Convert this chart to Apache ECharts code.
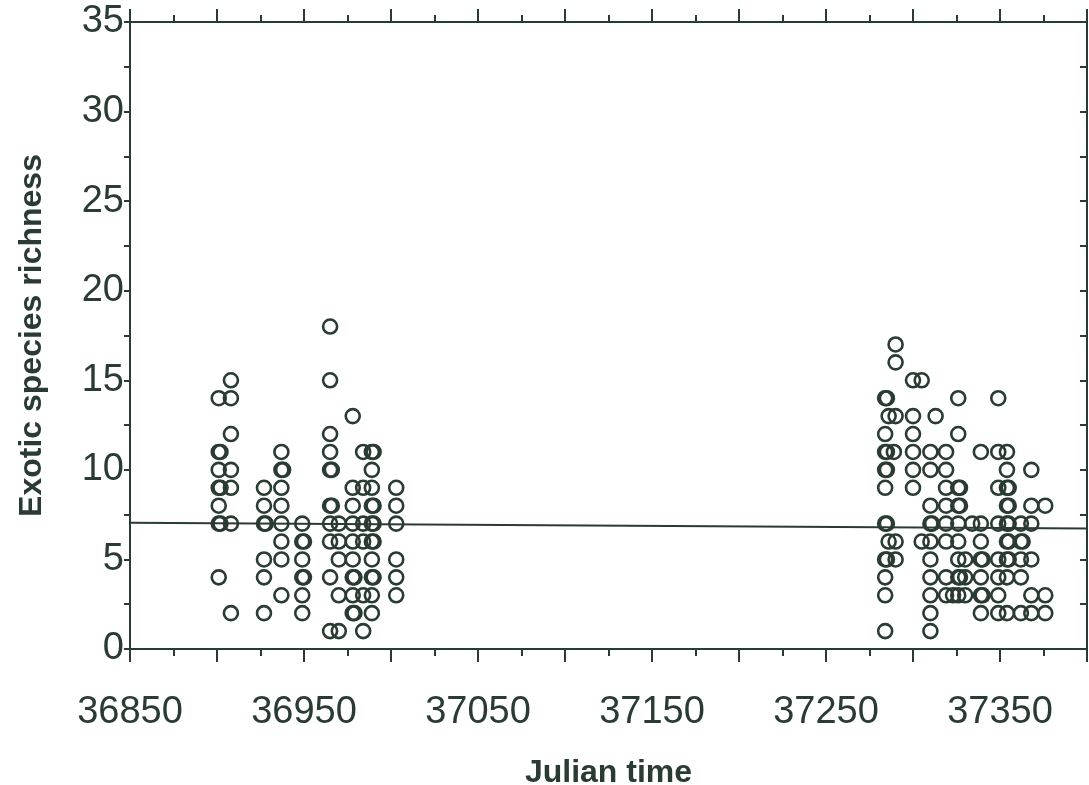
<!DOCTYPE html>
<html>
<head>
    <meta charset="utf-8"/>
    <style>
        html, body {
            height: 100%;
            margin: 0;
            padding: 0;
            background: #ffffff;
        }

        .container {
            width: 1089px;
            height: 785px;
        }
    </style>
</head>
<body>
<div id="main" class="container"></div>

<script src="https://cdn.jsdelivr.net/npm/echarts@6/dist/echarts.min.js"></script>
<script type="text/javascript">
    // sample days (julian) and the richness values recorded on each
    var sampleDays = [
        36901, 36902, 36908, 36927, 36928, 36937, 36938, 36949, 36950,
        36965, 36966, 36970, 36978, 36979, 36984, 36989, 36990, 37003,
        37284, 37285, 37286, 37289, 37290, 37300, 37305, 37310, 37311,
        37313, 37319, 37323, 37326, 37327, 37330, 37334, 37339, 37340,
        37349, 37354, 37355, 37362, 37363, 37368, 37376
    ];
    var richnessByDay = [
        [14, 11, 10, 9, 8, 7, 4],
        [11, 9, 7],
        [15, 14, 12, 10, 9, 7, 2],
        [9, 8, 7, 5, 4, 2],
        [7],
        [11, 10, 9, 8, 7, 6, 5, 3],
        [10],
        [7, 6, 5, 4, 3, 2],
        [6, 4],
        [18, 15, 12, 11, 10, 8, 7, 6, 4, 1],
        [10, 8],
        [7, 6, 5, 3, 1],
        [13, 9, 8, 7, 6, 5, 4, 3, 2],
        [4, 2],
        [11, 9, 7, 6, 3, 1],
        [11, 10, 9, 8, 7, 6, 5, 4, 3, 2],
        [11, 8, 7, 6, 4],
        [9, 8, 7, 5, 4, 3],
        [14, 12, 11, 10, 9, 7, 5, 4, 3, 1],
        [14, 11, 10, 7, 5],
        [13, 6],
        [11],
        [17, 16, 13, 6, 5],
        [15, 13, 12, 11, 10, 9],
        [15, 6],
        [11, 10, 8, 7, 6, 5, 4, 3, 2, 1],
        [7],
        [13],
        [11, 10, 9, 8, 7, 6, 4, 3],
        [3],
        [14, 12, 9, 8, 7, 6, 5, 4, 3],
        [9, 8, 4],
        [5, 4, 3],
        [7],
        [11, 7, 6, 5, 4, 3, 2],
        [5, 3],
        [14, 11, 9, 7, 5, 4, 3, 2],
        [11, 10, 9, 8, 7, 6, 5, 4, 2],
        [9, 8, 7, 6, 5],
        [7, 6, 5, 4, 2],
        [6],
        [10, 8, 7, 5, 3, 2],
        [8, 3, 2]
    ];
    // fitted regression line end points
    var fitDays = [36850, 37400];
    var fitRichness = [7.05, 6.72];

    var xTicks = [36850, 37400, 50];
    var yTicks = [0, 35, 5];

    var ink = '#2a3b33';
    var font = '"Liberation Sans", Arial, sans-serif';

    var points = [];
    for (var i = 0; i < sampleDays.length; i++) {
        for (var j = 0; j < richnessByDay[i].length; j++) {
            points.push([sampleDays[i], richnessByDay[i][j]]);
        }
    }
    var fitLine = [];
    for (var k = 0; k < fitDays.length; k++) {
        fitLine.push([fitDays[k], fitRichness[k]]);
    }

    var myChart = echarts.init(document.getElementById('main'));
    var option = {
        animation: false,
        textStyle: {fontFamily: font, color: ink},
        grid: {left: 130, right: 2, top: 22, bottom: 136, outerBoundsMode: 'none'},
        xAxis: [{
            type: 'value',
            position: 'bottom',
            min: xTicks[0],
            max: xTicks[1],
            interval: xTicks[2],
            name: 'Julian time',
            nameLocation: 'middle',
            nameGap: 108,
            nameTextStyle: {fontSize: 32, fontWeight: 'bold', color: ink, fontFamily: font},
            axisLine: {show: true, onZero: false, lineStyle: {color: ink, width: 2}},
            axisTick: {show: true, length: 13, lineStyle: {color: ink, width: 2}},
            minorTick: {show: true, splitNumber: 2, length: 7, lineStyle: {color: ink, width: 2}},
            splitLine: {show: false},
            axisLabel: {
                fontSize: 38,
                color: ink,
                margin: 45,
                formatter: function (v) {
                    return (v - xTicks[0]) % 100 === 0 ? String(v) : '';
                }
            }
        }, {
            type: 'value',
            position: 'top',
            min: xTicks[0],
            max: xTicks[1],
            interval: xTicks[2],
            axisLine: {show: true, onZero: false, lineStyle: {color: ink, width: 2}},
            axisTick: {show: true, length: 13, lineStyle: {color: ink, width: 2}},
            minorTick: {show: true, splitNumber: 2, length: 7, lineStyle: {color: ink, width: 2}},
            splitLine: {show: false},
            axisLabel: {show: false}
        }],
        yAxis: [{
            type: 'value',
            position: 'left',
            min: yTicks[0],
            max: yTicks[1],
            interval: yTicks[2],
            name: 'Exotic species richness',
            nameLocation: 'middle',
            nameGap: 82,
            nameTextStyle: {fontSize: 32, fontWeight: 'bold', color: ink, fontFamily: font},
            axisLine: {show: true, onZero: false, lineStyle: {color: ink, width: 2}},
            axisTick: {show: true, length: 6, lineStyle: {color: ink, width: 2}},
            minorTick: {show: true, splitNumber: 2, length: 6, lineStyle: {color: ink, width: 2}},
            splitLine: {show: false},
            axisLabel: {fontSize: 38, color: ink, margin: 6}
        }, {
            type: 'value',
            position: 'right',
            min: yTicks[0],
            max: yTicks[1],
            interval: 2.5,
            axisLine: {show: true, onZero: false, lineStyle: {color: ink, width: 2}},
            axisTick: {show: true, inside: true, length: 7, lineStyle: {color: ink, width: 2}},
            splitLine: {show: false},
            axisLabel: {show: false}
        }],
        series: [{
            type: 'scatter',
            xAxisIndex: 0,
            yAxisIndex: 0,
            symbol: 'circle',
            symbolSize: 14,
            itemStyle: {color: 'rgba(0,0,0,0)', borderColor: ink, borderWidth: 2.6, opacity: 1},
            data: points
        }, {
            type: 'line',
            xAxisIndex: 0,
            yAxisIndex: 0,
            showSymbol: false,
            lineStyle: {color: ink, width: 2},
            data: fitLine,
            z: 1
        }]
    };
    myChart.setOption(option);
</script>
</body>
</html>
